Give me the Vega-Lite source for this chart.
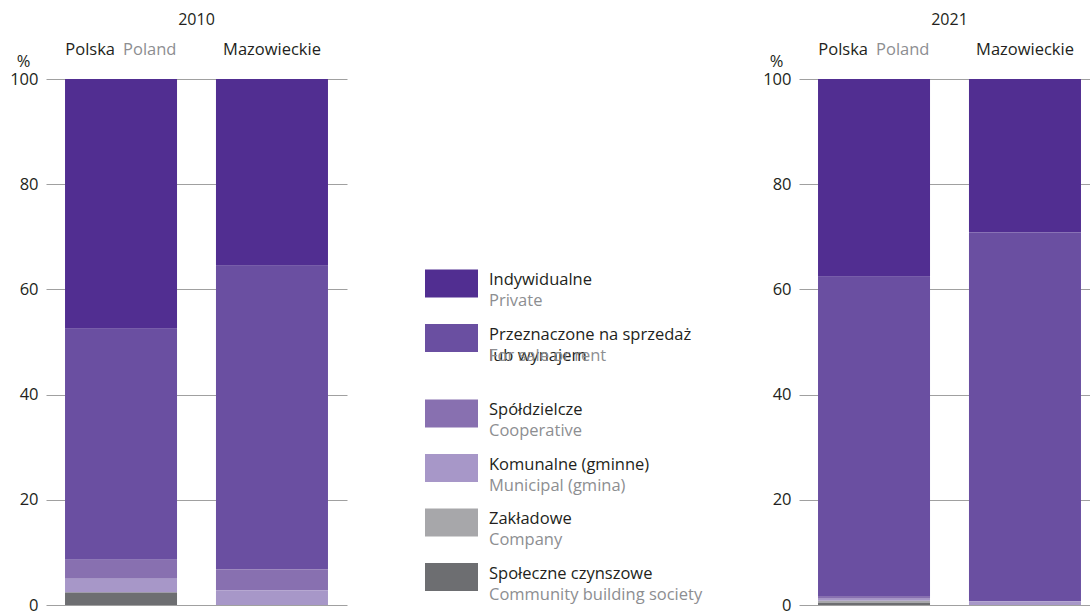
{
  "$schema": "https://vega.github.io/schema/vega-lite/v6.json",
  "padding": {"left": 9, "top": 12, "right": 0, "bottom": 0},
  "background": "white",
  "config": {
    "font": "Open Sans",
    "view": {"stroke": null},
    "title": {"fontSize": 16, "fontWeight": "normal", "color": "#231f20", "offset": 14, "anchor": "middle"},
    "style": {"guide-label": {"lineHeight": 21}}
  },
  "data": {
    "values": [
      {"rok": 2010, "region": "Polska", "region_en": "Poland", "typ": "Indywidualne", "en": "Private", "wartosc": 47.5},
      {"rok": 2010, "region": "Polska", "region_en": "Poland", "typ": "Przeznaczone na sprzedaż lub wynajem", "en": "For sale or rent", "wartosc": 43.9},
      {"rok": 2010, "region": "Polska", "region_en": "Poland", "typ": "Spółdzielcze", "en": "Cooperative", "wartosc": 3.6},
      {"rok": 2010, "region": "Polska", "region_en": "Poland", "typ": "Komunalne (gminne)", "en": "Municipal (gmina)", "wartosc": 2.6},
      {"rok": 2010, "region": "Polska", "region_en": "Poland", "typ": "Zakładowe", "en": "Company", "wartosc": 0.0},
      {"rok": 2010, "region": "Polska", "region_en": "Poland", "typ": "Społeczne czynszowe", "en": "Community building society", "wartosc": 2.4},
      {"rok": 2010, "region": "Mazowieckie", "region_en": "Mazowieckie", "typ": "Indywidualne", "en": "Private", "wartosc": 35.5},
      {"rok": 2010, "region": "Mazowieckie", "region_en": "Mazowieckie", "typ": "Przeznaczone na sprzedaż lub wynajem", "en": "For sale or rent", "wartosc": 57.7},
      {"rok": 2010, "region": "Mazowieckie", "region_en": "Mazowieckie", "typ": "Spółdzielcze", "en": "Cooperative", "wartosc": 4.0},
      {"rok": 2010, "region": "Mazowieckie", "region_en": "Mazowieckie", "typ": "Komunalne (gminne)", "en": "Municipal (gmina)", "wartosc": 2.8},
      {"rok": 2010, "region": "Mazowieckie", "region_en": "Mazowieckie", "typ": "Zakładowe", "en": "Company", "wartosc": 0.0},
      {"rok": 2010, "region": "Mazowieckie", "region_en": "Mazowieckie", "typ": "Społeczne czynszowe", "en": "Community building society", "wartosc": 0.0},
      {"rok": 2021, "region": "Polska", "region_en": "Poland", "typ": "Indywidualne", "en": "Private", "wartosc": 37.6},
      {"rok": 2021, "region": "Polska", "region_en": "Poland", "typ": "Przeznaczone na sprzedaż lub wynajem", "en": "For sale or rent", "wartosc": 60.7},
      {"rok": 2021, "region": "Polska", "region_en": "Poland", "typ": "Spółdzielcze", "en": "Cooperative", "wartosc": 0.5},
      {"rok": 2021, "region": "Polska", "region_en": "Poland", "typ": "Komunalne (gminne)", "en": "Municipal (gmina)", "wartosc": 0.4},
      {"rok": 2021, "region": "Polska", "region_en": "Poland", "typ": "Zakładowe", "en": "Company", "wartosc": 0.4},
      {"rok": 2021, "region": "Polska", "region_en": "Poland", "typ": "Społeczne czynszowe", "en": "Community building society", "wartosc": 0.4},
      {"rok": 2021, "region": "Mazowieckie", "region_en": "Mazowieckie", "typ": "Indywidualne", "en": "Private", "wartosc": 29.2},
      {"rok": 2021, "region": "Mazowieckie", "region_en": "Mazowieckie", "typ": "Przeznaczone na sprzedaż lub wynajem", "en": "For sale or rent", "wartosc": 70.1},
      {"rok": 2021, "region": "Mazowieckie", "region_en": "Mazowieckie", "typ": "Spółdzielcze", "en": "Cooperative", "wartosc": 0.0},
      {"rok": 2021, "region": "Mazowieckie", "region_en": "Mazowieckie", "typ": "Komunalne (gminne)", "en": "Municipal (gmina)", "wartosc": 0.7},
      {"rok": 2021, "region": "Mazowieckie", "region_en": "Mazowieckie", "typ": "Zakładowe", "en": "Company", "wartosc": 0.0},
      {"rok": 2021, "region": "Mazowieckie", "region_en": "Mazowieckie", "typ": "Społeczne czynszowe", "en": "Community building society", "wartosc": 0.0}
    ]
  },
  "transform": [
    {"calculate": "indexof(['Indywidualne','Przeznaczone na sprzedaż lub wynajem','Spółdzielcze','Komunalne (gminne)','Zakładowe','Społeczne czynszowe'], datum.typ)", "as": "kolejnosc"}
  ],
  "bounds": "flush",
  "spacing": 452,
  "hconcat": [
    {
      "title": "2010",
      "width": 301,
      "height": 526,
      "transform": [{"filter": "datum.rok == 2010"}],
      "layer": [
        {
          "mark": {"type": "bar"},
          "encoding": {
            "x": {"field": "region", "type": "nominal", "sort": ["Polska", "Mazowieckie"], "axis": null, "scale": {"paddingInner": 0.258, "paddingOuter": 0.126}},
            "y": {"field": "wartosc", "type": "quantitative", "stack": "zero", "scale": {"domain": [0, 100], "nice": false},
              "axis": {"values": [0, 20, 40, 60, 80, 100], "grid": true, "domain": false, "ticks": false, "labelPadding": 8, "labelFontSize": 16.5, "labelColor": "#231f20", "gridColor": "#a0a0a0", "gridWidth": 1, "title": "%", "titleAngle": 0, "titleX": -23, "titleY": -10, "titleAlign": "center", "titleBaseline": "bottom", "titleFontWeight": "normal", "titleFontSize": 16.5, "titleColor": "#231f20"}},
            "color": {"field": "typ", "type": "nominal",
              "sort": ["Indywidualne", "Przeznaczone na sprzedaż lub wynajem", "Spółdzielcze", "Komunalne (gminne)", "Zakładowe", "Społeczne czynszowe"],
              "scale": {"range": ["#512e91", "#6a4fa1", "#8870b0", "#a797c8", "#a7a7aa", "#6d6e71"]},
              "legend": {"orient": "none", "legendX": 379, "legendY": 183, "title": null, "direction": "vertical",
                "symbolType": "M-1,-0.25H4.3V2.55H-1Z", "symbolSize": 400, "symbolStrokeWidth": 0, "symbolOpacity": 1,
                "labelFontSize": 16.5, "labelColor": "#231f20", "labelLimit": 400, "labelOffset": 44, "rowPadding": 6.5, "labelBaseline": "top",
                "labelExpr": "datum.label == 'Przeznaczone na sprzedaż lub wynajem' ? ['Przeznaczone na sprzedaż', 'lub wynajem', '\u00a0'] : [datum.label, '\u00a0']"}},
            "order": {"field": "kolejnosc", "type": "quantitative", "sort": "descending"}
          }
        },
        {
          "mark": {"type": "point", "opacity": 0, "strokeWidth": 0, "shape": "square"},
          "encoding": {
            "stroke": {"field": "en", "type": "nominal",
              "sort": ["Private", "For sale or rent", "Cooperative", "Municipal (gmina)", "Company", "Community building society"],
              "scale": {"range": ["#ffffff", "#ffffff", "#ffffff", "#ffffff", "#ffffff", "#ffffff"]},
              "legend": {"orient": "none", "legendX": 379, "legendY": 183, "title": null, "direction": "vertical",
                "symbolType": "square", "symbolSize": 400, "symbolStrokeWidth": 0, "symbolOpacity": 0,
                "labelFontSize": 16.5, "labelColor": "#8d8e91", "labelLimit": 400, "labelOffset": 44, "rowPadding": 6.5, "labelBaseline": "top",
                "labelExpr": "datum.label == 'For sale or rent' ? ['\u00a0', '\u00a0', datum.label] : ['\u00a0', datum.label]"}}
          }
        },
        {
          "transform": [{"filter": "datum.region == 'Polska' && datum.typ == 'Indywidualne'"}],
          "mark": {"type": "text", "align": "right", "dx": -6, "dy": -24, "baseline": "alphabetic", "fontSize": 16.5, "color": "#231f20"},
          "encoding": {"x": {"field": "region", "type": "nominal", "sort": ["Polska", "Mazowieckie"]}, "y": {"datum": 100}, "text": {"field": "region"}}
        },
        {
          "transform": [{"filter": "datum.region == 'Polska' && datum.typ == 'Indywidualne'"}],
          "mark": {"type": "text", "align": "left", "dx": 2, "dy": -24, "baseline": "alphabetic", "fontSize": 16.5, "color": "#8d8e91"},
          "encoding": {"x": {"field": "region", "type": "nominal", "sort": ["Polska", "Mazowieckie"]}, "y": {"datum": 100}, "text": {"field": "region_en"}}
        },
        {
          "transform": [{"filter": "datum.region == 'Mazowieckie' && datum.typ == 'Indywidualne'"}],
          "mark": {"type": "text", "align": "center", "dy": -24, "baseline": "alphabetic", "fontSize": 16.5, "color": "#231f20"},
          "encoding": {"x": {"field": "region", "type": "nominal", "sort": ["Polska", "Mazowieckie"]}, "y": {"datum": 100}, "text": {"field": "region"}}
        }
      ]
    },
    {
      "title": "2021",
      "width": 301,
      "height": 526,
      "transform": [{"filter": "datum.rok == 2021"}],
      "layer": [
        {
          "mark": {"type": "bar"},
          "encoding": {
            "x": {"field": "region", "type": "nominal", "sort": ["Polska", "Mazowieckie"], "axis": null, "scale": {"paddingInner": 0.258, "paddingOuter": 0.126}},
            "y": {"field": "wartosc", "type": "quantitative", "stack": "zero", "scale": {"domain": [0, 100], "nice": false},
              "axis": {"values": [0, 20, 40, 60, 80, 100], "grid": true, "domain": false, "ticks": false, "labelPadding": 8, "labelFontSize": 16.5, "labelColor": "#231f20", "gridColor": "#a0a0a0", "gridWidth": 1, "title": "%", "titleAngle": 0, "titleX": -23, "titleY": -10, "titleAlign": "center", "titleBaseline": "bottom", "titleFontWeight": "normal", "titleFontSize": 16.5, "titleColor": "#231f20"}},
            "color": {"field": "typ", "type": "nominal",
              "sort": ["Indywidualne", "Przeznaczone na sprzedaż lub wynajem", "Spółdzielcze", "Komunalne (gminne)", "Zakładowe", "Społeczne czynszowe"],
              "scale": {"range": ["#512e91", "#6a4fa1", "#8870b0", "#a797c8", "#a7a7aa", "#6d6e71"]}},
            "order": {"field": "kolejnosc", "type": "quantitative", "sort": "descending"}
          }
        },
        {
          "transform": [{"filter": "datum.region == 'Polska' && datum.typ == 'Indywidualne'"}],
          "mark": {"type": "text", "align": "right", "dx": -6, "dy": -24, "baseline": "alphabetic", "fontSize": 16.5, "color": "#231f20"},
          "encoding": {"x": {"field": "region", "type": "nominal", "sort": ["Polska", "Mazowieckie"]}, "y": {"datum": 100}, "text": {"field": "region"}}
        },
        {
          "transform": [{"filter": "datum.region == 'Polska' && datum.typ == 'Indywidualne'"}],
          "mark": {"type": "text", "align": "left", "dx": 2, "dy": -24, "baseline": "alphabetic", "fontSize": 16.5, "color": "#8d8e91"},
          "encoding": {"x": {"field": "region", "type": "nominal", "sort": ["Polska", "Mazowieckie"]}, "y": {"datum": 100}, "text": {"field": "region_en"}}
        },
        {
          "transform": [{"filter": "datum.region == 'Mazowieckie' && datum.typ == 'Indywidualne'"}],
          "mark": {"type": "text", "align": "center", "dy": -24, "baseline": "alphabetic", "fontSize": 16.5, "color": "#231f20"},
          "encoding": {"x": {"field": "region", "type": "nominal", "sort": ["Polska", "Mazowieckie"]}, "y": {"datum": 100}, "text": {"field": "region"}}
        }
      ]
    }
  ]
}
